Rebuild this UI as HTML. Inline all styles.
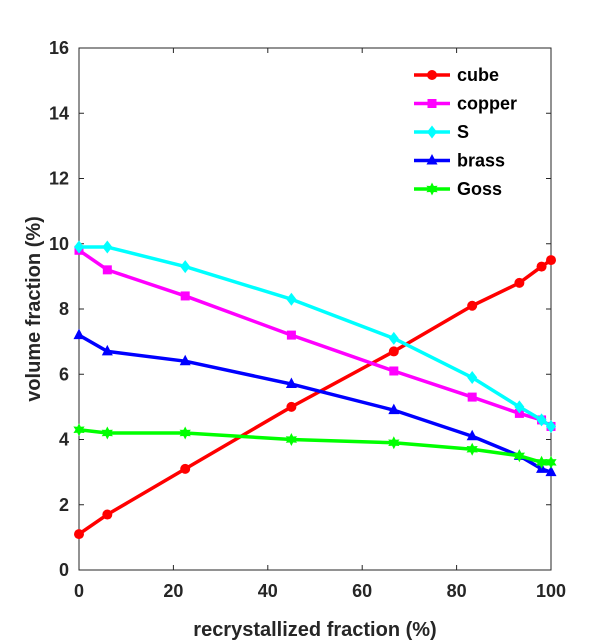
<!DOCTYPE html>
<html><head><meta charset="utf-8"><style>
body{margin:0;background:#fff;}
svg{display:block;font-family:"Liberation Sans",sans-serif;font-weight:bold;}
</style></head><body>
<svg id="chart" width="609" height="642" viewBox="0 0 609 642" xmlns="http://www.w3.org/2000/svg"></svg>
<script>
const xValues=[0,6,22.5,45,66.7,83.3,93.3,98,100];
const cubeValues=[1.1,1.7,3.1,5.0,6.7,8.1,8.8,9.3,9.5];
const copperValues=[9.8,9.2,8.4,7.2,6.1,5.3,4.8,4.6,4.4];
const sValues=[9.9,9.9,9.3,8.3,7.1,5.9,5.0,4.6,4.4];
const brassValues=[7.2,6.7,6.4,5.7,4.9,4.1,3.5,3.1,3.0];
const gossValues=[4.3,4.2,4.2,4.0,3.9,3.7,3.5,3.3,3.3];
const xTicks=[0,20,40,60,80,100];
const yTicks=[0,2,4,6,8,10,12,14,16];
const seriesNames=["cube","copper","S","brass","Goss"];

const L=79,R=551,T=48,B=570;
const sx=v=>L+(v/100)*(R-L);
const sy=v=>B-(v/16)*(B-T);
const NS="http://www.w3.org/2000/svg";
const svg=document.getElementById('chart');
function mk(tag,attrs,parent){const e=document.createElementNS(NS,tag);for(const k in attrs)e.setAttribute(k,attrs[k]);(parent||svg).appendChild(e);return e;}

const series=[
 {vals:cubeValues,color:"#ff0000",marker:"circle"},
 {vals:copperValues,color:"#ff00ff",marker:"square"},
 {vals:sValues,color:"#00ffff",marker:"diamond"},
 {vals:brassValues,color:"#0000ff",marker:"triangle"},
 {vals:gossValues,color:"#00ff00",marker:"star"}
];
function marker(type,x,y,color,g){
 let e;
 if(type==="circle"){e=mk('circle',{cx:x,cy:y,r:5,fill:color},g);}
 else if(type==="square"){e=mk('rect',{x:x-4.5,y:y-4.5,width:9,height:9,fill:color},g);}
 else if(type==="diamond"){e=mk('polygon',{points:`${x},${y-6.5} ${x+5},${y} ${x},${y+6.5} ${x-5},${y}`,fill:color},g);}
 else if(type==="triangle"){e=mk('polygon',{points:`${x},${y-6.5} ${x+5.5},${y+4} ${x-5.5},${y+4}`,fill:color},g);}
 else {let p=[];for(let i=0;i<12;i++){const a=i*Math.PI/6-Math.PI/2;const r=i%2?3.5:6.5;p.push((x+r*Math.cos(a)).toFixed(1)+","+(y+r*Math.sin(a)).toFixed(1));}e=mk('polygon',{points:p.join(" "),fill:color},g);}
 return e;
}

// ticks & labels
xTicks.forEach(t=>{
 const x=sx(t);
 const l1=mk('line',{x1:x,y1:B,x2:x,y2:B-5,stroke:"#262626","stroke-width":1});
 
 const l2=mk('line',{x1:x,y1:T,x2:x,y2:T+5,stroke:"#262626","stroke-width":1});
 
 const tx=mk('text',{x:x,y:B+27,"text-anchor":"middle","font-size":18,fill:"#262626"});tx.textContent=t;
 
});
yTicks.forEach(t=>{
 const y=sy(t);
 const l1=mk('line',{x1:L,y1:y,x2:L+5,y2:y,stroke:"#262626","stroke-width":1});
 
 const l2=mk('line',{x1:R,y1:y,x2:R-5,y2:y,stroke:"#262626","stroke-width":1});
 
 const tx=mk('text',{x:L-10,y:y+6,"text-anchor":"end","font-size":18,fill:"#262626"});tx.textContent=t;
 
});
const frame=mk('rect',{x:L,y:T,width:R-L,height:B-T,fill:"none",stroke:"#262626","stroke-width":1});


const xt=mk('text',{x:(L+R)/2,y:636,"text-anchor":"middle","font-size":20,fill:"#262626"});xt.textContent="recrystallized fraction (%)";

const yt=mk('text',{x:0,y:0,"text-anchor":"middle","font-size":20,fill:"#262626",transform:`translate(40,${(T+B)/2}) rotate(-90)`});yt.textContent="volume fraction (%)";


series.forEach((s,i)=>{
 const g=mk('g',{});
 
 
 const pts=s.vals.map((v,j)=>sx(xValues[j])+","+sy(v)).join(" ");
 const pl=mk('polyline',{points:pts,fill:"none",stroke:s.color,"stroke-width":3.5,"stroke-linejoin":"round"},g);
 
 
 s.vals.forEach((v,j)=>{const m=marker(s.marker,sx(xValues[j]),sy(v),s.color,g);
  
  });
});

// legend
const lg=mk('g',{});


series.forEach((s,i)=>{
 const y=75+i*28.5;
 const e=mk('g',{},lg);
 
 
 mk('line',{x1:414,y1:y,x2:450,y2:y,stroke:s.color,"stroke-width":3.5},e);
 marker(s.marker,432,y,s.color,e);
 const t=mk('text',{x:457,y:y+6,"font-size":18,fill:"#000"},e);t.textContent=seriesNames[i];
});
</script>
</body></html>
